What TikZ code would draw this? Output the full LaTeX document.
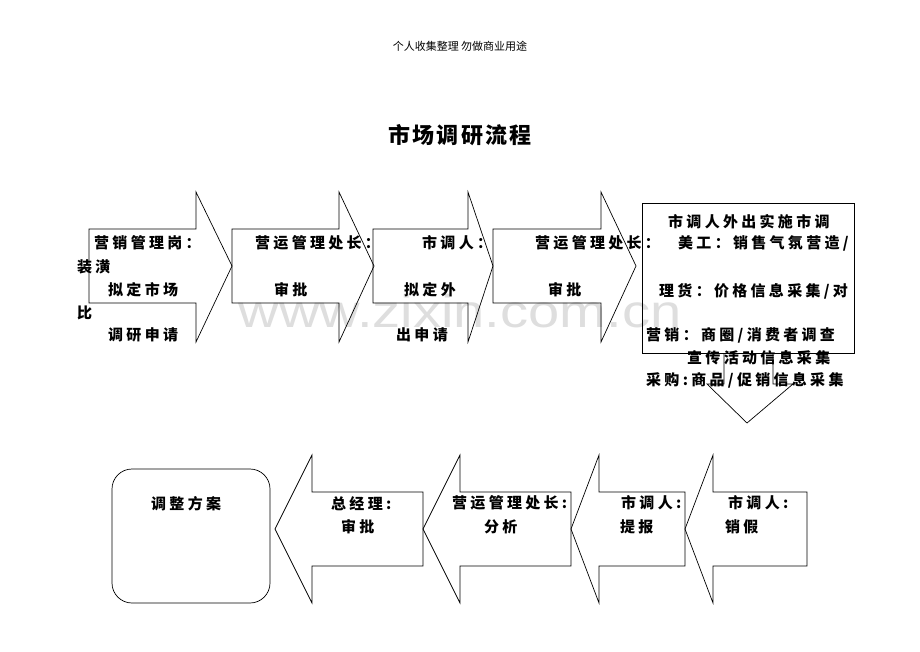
\documentclass[tikz,border=0pt]{standalone}
\usepackage{fontspec}
\newfontfamily\cjk[LetterSpace=22]{Noto Sans CJK SC}
\newfontfamily\cjktitle[LetterSpace=10]{Noto Sans CJK SC}
\newfontfamily\cjkhead{Noto Sans CJK SC}
\newfontfamily\wmfont{Liberation Sans}
\definecolor{wmgray}{RGB}{222,222,222}
\tikzset{
  shape line/.style={draw=black, line width=0.7pt, line join=miter},
  lbl/.style={anchor=west, inner sep=0pt, font=\cjk\bfseries\fontsize{15}{15}\selectfont},
}
\begin{document}
\begin{tikzpicture}[x=1pt,y=-1pt]
\useasboundingbox[fill=white] (0,0) rectangle (920,651);
% watermark
\node[anchor=base, inner sep=0pt, text=wmgray, xscale=1.22, font=\wmfont\fontsize{46}{46}\selectfont] (wm) at (460,327) {www.zixin.com.cn};
% header and title
\node[inner sep=0pt, font=\cjkhead\fontsize{11}{11}\selectfont] (hdr) at (460,46) {个人收集整理 勿做商业用途};
\node[inner sep=0pt, font=\cjktitle\bfseries\fontsize{22}{22}\selectfont] (title) at (460,135) {市场调研流程};
% top row arrows
\draw[shape line] (89,229) -- (196,229) -- (196,192) -- (232,266) -- (196,342) -- (196,303) -- (89,303) -- cycle;
\draw[shape line] (232,229) -- (339,229) -- (339,192) -- (374,266) -- (339,342) -- (339,303) -- (232,303) -- cycle;
\draw[shape line] (373,229) -- (468,229) -- (468,192) -- (493,266) -- (468,342) -- (468,303) -- (373,303) -- cycle;
\draw[shape line] (493,229) -- (601,229) -- (601,192) -- (636,266) -- (601,342) -- (601,303) -- (493,303) -- cycle;
% box and down arrow
\draw[shape line] (642,203) rectangle (854,353);
\draw[shape line] (724,353) -- (724,384) -- (707,384) -- (747,423) -- (793,384) -- (773,384) -- (773,353);
% bottom row
\draw[shape line, rounded corners=20pt] (112,469) rectangle (270,603);
\draw[shape line] (275,529) -- (312,455) -- (312,492) -- (423,492) -- (423,566) -- (312,566) -- (312,603) -- cycle;
\draw[shape line] (423,529) -- (460,455) -- (460,492) -- (571,492) -- (571,566) -- (460,566) -- (460,603) -- cycle;
\draw[shape line] (571,529) -- (599,455) -- (599,492) -- (685,492) -- (685,566) -- (599,566) -- (599,603) -- cycle;
\draw[shape line] (685,529) -- (713,455) -- (713,492) -- (807,492) -- (807,566) -- (713,566) -- (713,603) -- cycle;
% texts top row
\node[lbl] (t1a) at (94,243) {营销管理岗：};
\node[lbl] (t1b) at (77,267) {装潢};
\node[lbl] (t1c) at (108,290) {拟定市场};
\node[lbl] (t1d) at (77,313) {比};
\node[lbl] (t1e) at (108,335) {调研申请};
\node[lbl] (t2a) at (255,243) {营运管理处长：};
\node[lbl] (t2b) at (274,290) {审批};
\node[lbl] (t3a) at (422,243) {市调人：};
\node[lbl] (t3b) at (404,290) {拟定外};
\node[lbl] (t3c) at (396,335) {出申请};
\node[lbl] (t4a) at (535,243) {营运管理处长：};
\node[lbl] (t4b) at (548,290) {审批};
% box texts
\node[lbl] (b1) at (668,222) {市调人外出实施市调};
\node[lbl] (b2) at (678,243) {美工：销售气氛营造/};
\node[lbl] (b3) at (659,291) {理货：价格信息采集/对};
\node[lbl] (b4) at (646,335) {营销：商圈/消费者调查};
\node[lbl] (b5) at (687,358) {宣传活动信息采集};
\node[lbl] (b6) at (646,380) {采购:商品/促销信息采集};
% bottom texts
\node[lbl] (r1) at (151,504) {调整方案};
\node[lbl] (a1a) at (331,504) {总经理:};
\node[lbl] (a1b) at (341,527) {审批};
\node[lbl] (a2a) at (452,503) {营运管理处长:};
\node[lbl] (a2b) at (484,527) {分析};
\node[lbl] (a3a) at (621,503) {市调人:};
\node[lbl] (a3b) at (620,527) {提报};
\node[lbl] (a4a) at (728,503) {市调人:};
\node[lbl] (a4b) at (725,527) {销假};
\end{tikzpicture}
\end{document}
